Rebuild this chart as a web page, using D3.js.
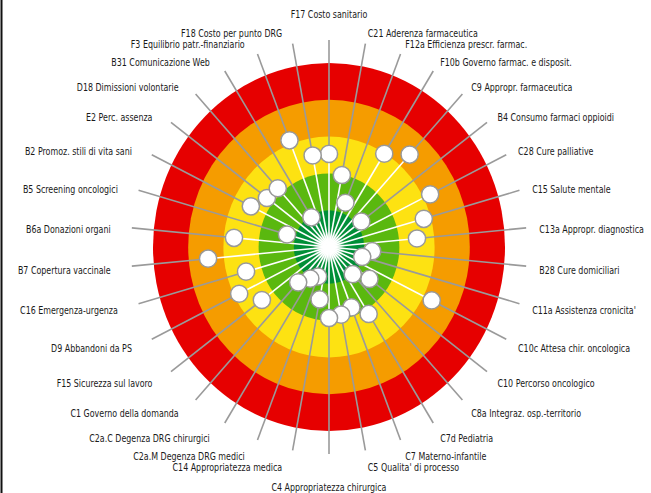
<!DOCTYPE html>
<html>
<head>
<meta charset="utf-8">
<script src="https://cdn.jsdelivr.net/npm/d3@7"></script>
<style>
  html, body { margin: 0; padding: 0; background: #fff; }
  svg { display: block; }
  text { font-family: "DejaVu Sans Condensed", "Liberation Sans Narrow", sans-serif; fill: #1a1a1a; }
</style>
</head>
<body>
<svg id="chart" width="651" height="493"></svg>
<script>
// Indicators, clockwise from the top
const categories = [
  "F17 Costo sanitario",
  "C21 Aderenza farmaceutica",
  "F12a Efficienza prescr. farmac.",
  "F10b Governo farmac. e disposit.",
  "C9 Appropr. farmaceutica",
  "B4 Consumo farmaci oppioidi",
  "C28 Cure palliative",
  "C15 Salute mentale",
  "C13a Appropr. diagnostica",
  "B28 Cure domiciliari",
  "C11a Assistenza cronicita'",
  "C10c Attesa chir. oncologica",
  "C10 Percorso oncologico",
  "C8a Integraz. osp.-territorio",
  "C7d Pediatria",
  "C7 Materno-infantile",
  "C5 Qualita' di processo",
  "C4 Appropriatezza chirurgica",
  "C14 Appropriatezza medica",
  "C2a.M Degenza DRG medici",
  "C2a.C Degenza DRG chirurgici",
  "C1 Governo della domanda",
  "F15 Sicurezza sul lavoro",
  "D9 Abbandoni da PS",
  "C16 Emergenza-urgenza",
  "B7 Copertura vaccinale",
  "B6a Donazioni organi",
  "B5 Screening oncologici",
  "B2 Promoz. stili di vita sani",
  "E2 Perc. assenza",
  "D18 Dimissioni volontarie",
  "B31 Comunicazione Web",
  "F3 Equilibrio patr.-finanziario",
  "F18 Costo per punto DRG"
];

// Performance scores (0 = worst, outer red; 5 = best, centre)
const scores = [
  2.47, 3.01, 3.71, 2.02, 1.60, 3.85, 1.79, 2.20, 2.49, 3.77,
  4.02, 1.74, 3.56, 4.00, 2.86, 3.24, 3.13, 3.07, 3.55, 4.14,
  3.99, 3.70, 2.61, 2.15, 2.55, 1.55, 2.29, 3.76, 2.52, 2.79,
  2.84, 4.05, 1.89, 2.47
];

// Score bands (lower bound of each band)
const bandLower = [0, 1, 2, 3, 4];
const bandColors = ["#e60000", "#f59c00", "#fde212", "#5ab80f", "#008f37"];

const svg = d3.select("#chart");
const cx = 329, cy = 247, Rx = 176, Ry = 184;

// radial scale: score -> unit radius
const u = d3.scaleLinear().domain([5, 0]).range([0, 1]);
const ang = d3.scaleLinear().domain([0, categories.length]).range([0, 2 * Math.PI]);

const px = (i, r) => cx + Rx * r * Math.sin(ang(i));
const py = (i, r) => cy - Ry * r * Math.cos(ang(i));

// left border
svg.append("line").attr("x1", 1.5).attr("x2", 1.5).attr("y1", 0).attr("y2", 493)
  .attr("stroke", "#111").attr("stroke-width", 2);

// rings (outermost first)
svg.append("g").selectAll("ellipse")
  .data(bandLower)
  .join("ellipse")
  .attr("cx", cx).attr("cy", cy)
  .attr("rx", d => Rx * u(d))
  .attr("ry", d => Ry * u(d))
  .attr("fill", (d, i) => bandColors[i]);

const data = categories.map((c, i) => ({ name: c, score: scores[i], i }));
const END = 1.125;

// grey spokes
svg.append("g").selectAll("line")
  .data(data)
  .join("line")
  .attr("x1", d => px(d.i, u(d.score)))
  .attr("y1", d => py(d.i, u(d.score)))
  .attr("x2", d => px(d.i, END))
  .attr("y2", d => py(d.i, END))
  .attr("stroke", "#9a9a9a").attr("stroke-width", 1.6);

// white spokes from centre to marker
svg.append("g").selectAll("line")
  .data(data)
  .join("line")
  .attr("x1", cx).attr("y1", cy)
  .attr("x2", d => px(d.i, u(d.score)))
  .attr("y2", d => py(d.i, u(d.score)))
  .attr("stroke", "#ffffff").attr("stroke-width", 1.6);

// centre glow
const defs = svg.append("defs");
const rg = defs.append("radialGradient").attr("id", "glow");
rg.append("stop").attr("offset", "0%").attr("stop-color", "#fff").attr("stop-opacity", 1);
rg.append("stop").attr("offset", "45%").attr("stop-color", "#fff").attr("stop-opacity", 0.9);
rg.append("stop").attr("offset", "100%").attr("stop-color", "#fff").attr("stop-opacity", 0);
svg.append("circle").attr("cx", cx).attr("cy", cy).attr("r", 16).attr("fill", "url(#glow)");

// markers
svg.append("g").selectAll("circle")
  .data(data)
  .join("circle")
  .attr("cx", d => px(d.i, u(d.score)))
  .attr("cy", d => py(d.i, u(d.score)))
  .attr("r", 8.6)
  .attr("fill", "#ffffff")
  .attr("stroke", "#999999").attr("stroke-width", 1.5);

// labels
const LAB = 1.2;
const n = categories.length;
function labelPos(d) {
  if (d.i === 0) return [cx, cy - Ry * LAB - 12];
  if (d.i === n / 2) return [cx, cy + Ry * LAB + 19];
  return [px(d.i, LAB) + (d.i < n / 2 ? 0 : -8), py(d.i, LAB) + 3];
}
svg.append("g").selectAll("text")
  .data(data)
  .join("text")
  .attr("font-size", 10.5)
  .attr("dominant-baseline", "central")
  .attr("text-anchor", d => (d.i === 0 || d.i === n / 2) ? "middle" : (d.i < n / 2 ? "start" : "end"))
  .attr("transform", d => { const p = labelPos(d); return `translate(${p[0]},${p[1]}) scale(0.84,1)`; })
  .text(d => d.name);
</script>
</body>
</html>
